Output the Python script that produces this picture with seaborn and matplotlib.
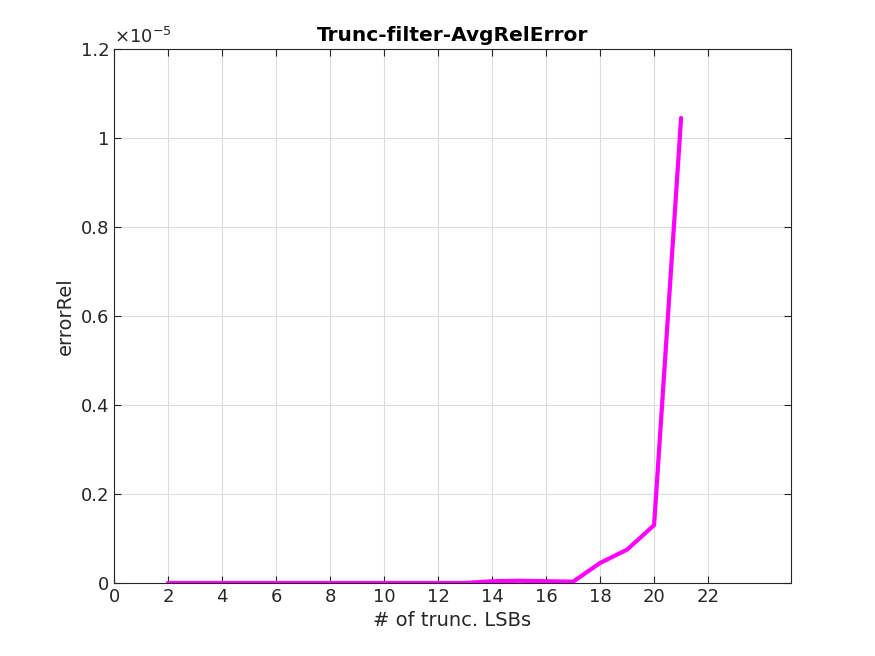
import matplotlib
matplotlib.use('Agg')
import matplotlib.pyplot as plt
import seaborn as sns
import pandas as pd

# data
lsbs = list(range(2, 22))
err_rel = [0, 0, 0, 0, 0, 0, 0, 0, 0, 0, 0, 0.004, 0.005, 0.004, 0.003,
           0.045, 0.075, 0.13, 1.045]
err_rel = [v * 1e-5 for v in [0] + err_rel]
df = pd.DataFrame({'lsb': lsbs, 'err': err_rel})

sns.set_style('white')
plt.rcParams['font.family'] = ['DejaVu Sans']

fig = plt.figure(figsize=(8.75, 6.56), dpi=100)
ax = fig.add_axes([114 / 875, 1 - 583 / 656, 677 / 875, 534 / 656])
sns.lineplot(data=df, x='lsb', y='err', color='#ff00ff', linewidth=3, ax=ax)

ax.set_xlim(0, 25.07)
ax.set_ylim(0, 1.2e-5)
ax.set_xticks(range(0, 23, 2))
yt = [0, 0.2, 0.4, 0.6, 0.8, 1.0, 1.2]
ax.set_yticks([v * 1e-5 for v in yt])
ax.set_yticklabels(['0', '0.2', '0.4', '0.6', '0.8', '1', '1.2'])
ax.tick_params(direction='in', length=5, labelsize=13, colors='#262626',
               top=True, right=True, bottom=True, left=True)
ax.grid(True, color='#dcdcdc', linewidth=0.8)
for s in ax.spines.values():
    s.set_color('#262626')
    s.set_linewidth(0.8)
ax.set_xlabel('# of trunc. LSBs', fontsize=14, color='#262626')
ax.set_ylabel('errorRel', fontsize=14, color='#262626')
ax.set_title('Trunc-filter-AvgRelError', fontsize=14.5, fontweight='bold',
             color='black', pad=6)
ax.text(0, 1.003, r'$\times10^{-5}$', transform=ax.transAxes, fontsize=13,
        color='#262626', va='bottom', ha='left')

fig.savefig('out.png', dpi=100)
